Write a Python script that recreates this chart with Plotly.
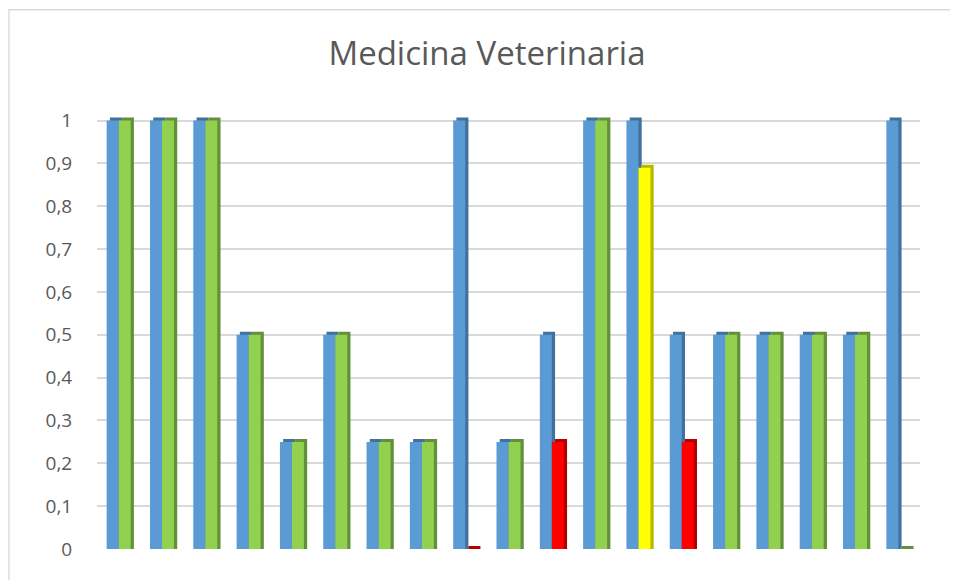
"""Medicina Veterinaria - clustered bars with a faux 3D depth."""
import plotly.graph_objects as go

categories = list(range(1, 20))
serie_a = [1, 1, 1, 0.5, 0.25, 0.5, 0.25, 0.25, 1, 0.25, 0.5, 1, 1, 0.5, 0.5, 0.5, 0.5, 0.5, 1]
serie_b = [1, 1, 1, 0.5, 0.25, 0.5, 0.25, 0.25, 0, 0.25, 0.25, 1, 0.89, 0.25, 0.5, 0.5, 0.5, 0.5, 0]
serie_b_colors = ["green", "green", "green", "green", "green", "green", "green", "green", "red",
                  "green", "red", "green", "yellow", "red", "green", "green", "green", "green", "green"]

FACE = {"blue": "#5b9bd5", "green": "#92d050", "red": "#ff0000", "yellow": "#ffff00"}
SIDE = {"blue": "#41719c", "green": "#62913a", "red": "#b40000", "yellow": "#b8b800"}

W = 0.277      # bar width in category units
DX = 0.075     # depth shift (x)
DY = 0.007     # depth shift (y)

fig = go.Figure()


def add_series(values, colors, offset):
    # darker block behind, shifted right/up, gives the side and top faces
    fig.add_trace(go.Bar(x=categories, y=[v + DY for v in values], offset=offset + DX, width=W,
                         marker=dict(color=[SIDE[c] for c in colors], line_width=0),
                         hoverinfo="skip"))
    fig.add_trace(go.Bar(x=categories, y=values, offset=offset, width=W,
                         marker=dict(color=[FACE[c] for c in colors], line_width=0)))


add_series(serie_a, ["blue"] * len(serie_a), -W)
add_series(serie_b, serie_b_colors, 0)

# chart-area frame (page body adds 8px, so the figure starts at 8,8)
fig.add_shape(type="rect", xref="paper", yref="paper", x0=-0.107, x1=1.5, y0=-0.3, y1=1.234,
              line=dict(color="#d9d9d9", width=1.3), fillcolor="rgba(0,0,0,0)", layer="below")

fig.update_layout(
    width=958, height=580,
    margin=dict(l=89, r=46, t=104, b=39),
    barmode="overlay", showlegend=False,
    paper_bgcolor="white", plot_bgcolor="white",
    separators=", ",
    font=dict(family="Open Sans, Liberation Sans, sans-serif", color="#595959", size=19),
    title=dict(text="Medicina Veterinaria", x=0.5, xanchor="center", y=0.922, yanchor="middle",
               font=dict(size=33, color="#595959")),
    xaxis=dict(range=[0.5, 19.5], showticklabels=False, showgrid=False, zeroline=False,
               showline=False, ticks=""),
    yaxis=dict(range=[0, 1.02], tickvals=[i / 10 for i in range(11)], showgrid=True,
               gridcolor="#d9d9d9", gridwidth=1.5, zeroline=False, showline=False,
               ticks="outside", ticklen=20, tickcolor="rgba(0,0,0,0)"),
)

fig.write_html("out.html")
